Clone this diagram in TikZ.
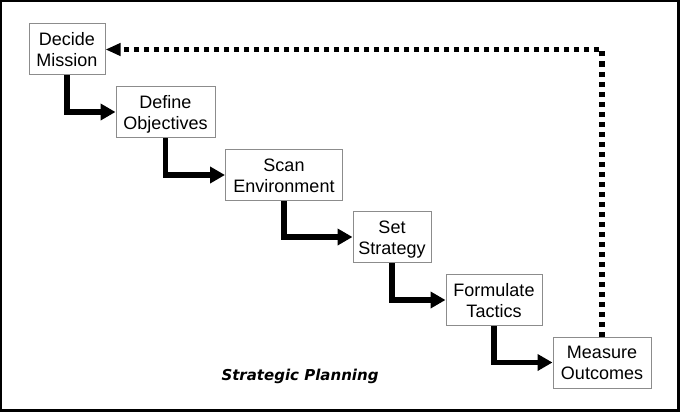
\documentclass[tikz,border=0pt]{standalone}
\usepackage{fontspec}
\setmainfont{Liberation Sans}
\newfontfamily\titlefont{DejaVu Sans}
\usetikzlibrary{arrows.meta}
\newcommand\boxln[1]{\raisebox{0pt}[13.1pt][0pt]{#1}}
\begin{document}
\begin{tikzpicture}[x=1pt,y=-1pt,
  stepbox/.style={draw=black!45, line width=1pt, fill=white, inner sep=0pt,
    minimum height=51pt, align=center, font=\fontsize{18}{21}\selectfont},
  flow/.style={line width=5.5pt, line join=miter, draw=black,
    -{Triangle[length=15pt,width=16pt]}},
  fb/.style={line width=5.5pt, draw=black, dash pattern=on 5pt off 5pt,
    -{Triangle[length=15pt,width=12pt]}}
]
\useasboundingbox (0,0) rectangle (680,412);
\fill[white] (0,0) rectangle (680,412);
\draw[line width=2.5pt, black] (1.2,1.2) rectangle (678.6,410.6);

\node[stepbox, minimum width=76pt]  (dm) at (67,49.5)  {\boxln{Decide}\\\boxln{Mission}};
\node[stepbox, minimum width=99pt]  (do) at (165.5,112) {\boxln{Define}\\\boxln{Objectives}};
\node[stepbox, minimum width=117pt] (se) at (284,175)  {\boxln{Scan}\\\boxln{Environment}};
\node[stepbox, minimum width=78pt]  (ss) at (392,237)  {\boxln{Set}\\\boxln{Strategy}};
\node[stepbox, minimum width=96pt]  (ft) at (494,300)  {\boxln{Formulate}\\\boxln{Tactics}};
\node[stepbox, minimum width=98pt]  (mo) at (602,362.5) {\boxln{Measure}\\\boxln{Outcomes}};

\draw[flow] (dm.south) |- (do.west);
\draw[flow] (do.south) |- (se.west);
\draw[flow] (se.south) |- (ss.west);
\draw[flow] (ss.south) |- (ft.west);
\draw[flow] (ft.south) |- (mo.west);

\draw[fb] (mo.north) |- (dm.east);

\node[anchor=base, font=\titlefont\bfseries\itshape\fontsize{15}{18}\selectfont] (title) at (300,380) {Strategic Planning};
\end{tikzpicture}
\end{document}
